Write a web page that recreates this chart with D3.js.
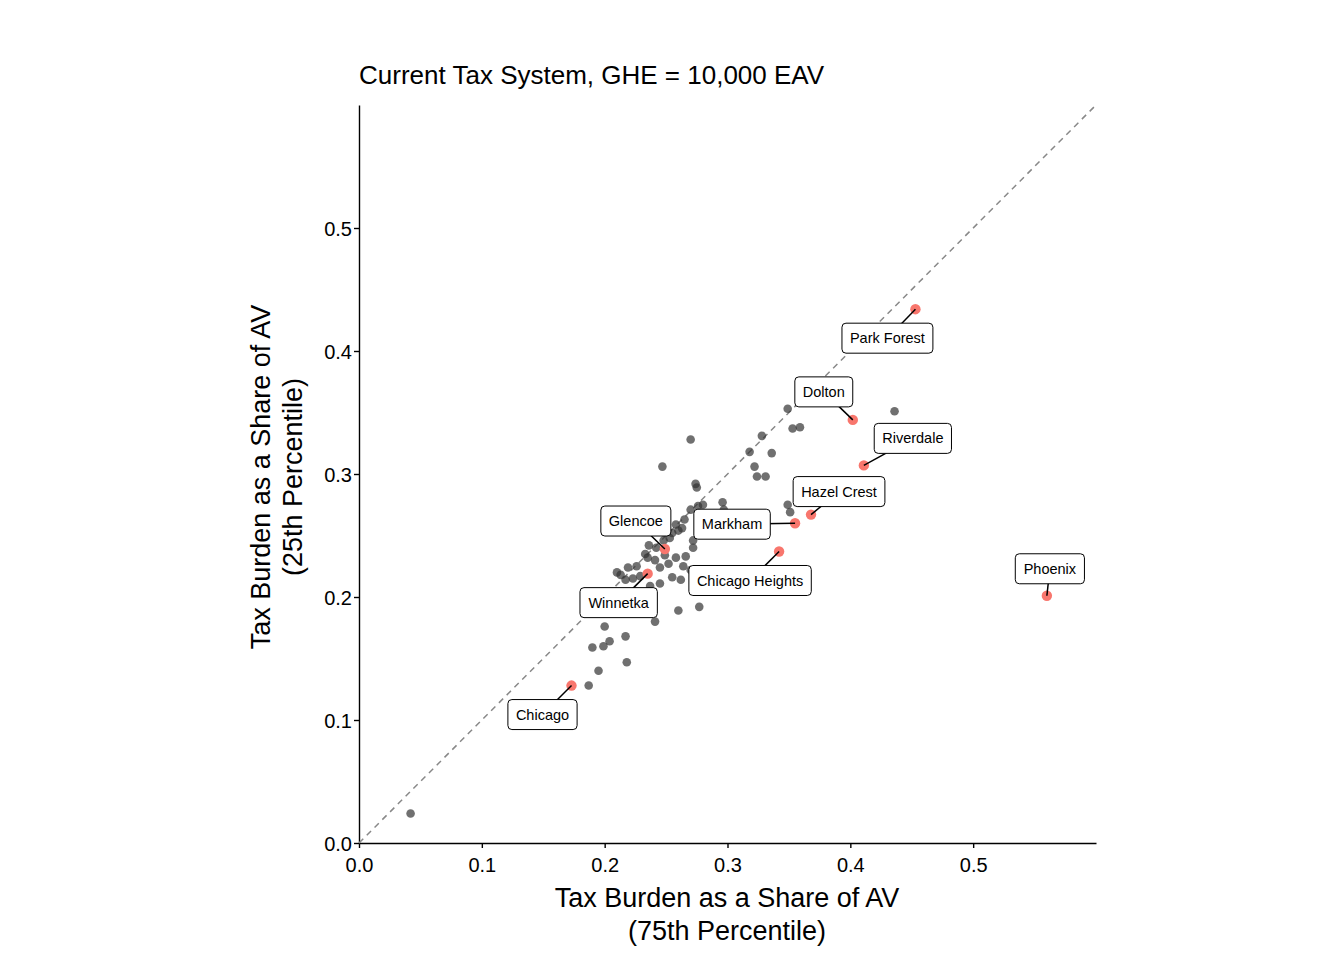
<!DOCTYPE html>
<html>
<head>
<meta charset="utf-8">
<script src="https://d3js.org/d3.v7.min.js"></script>
<style>
  body { margin: 0; background: #fff; }
  text { font-family: Arial, "Liberation Sans", sans-serif; }
</style>
</head>
<body>
<svg id="chart" width="1344" height="960"></svg>
<script>
// gray points: [x (75th pct), y (25th pct)]
var grayX = [0.042,0.187,0.195,0.204,0.199,0.190,0.218,0.217,0.200,0.241,0.260,0.277,0.213,0.217,0.223,0.229,0.237,0.245,0.255,0.262,0.264,0.270,0.266,0.272,0.272,0.252,0.258,0.245,0.235,0.236,0.248,0.255,0.260,0.263,0.258,0.265,0.270,0.276,0.280,0.296,0.297,0.275,0.247,0.270,0.274,0.322,0.324,0.331,0.318,0.328,0.336,0.349,0.353,0.359,0.349,0.351,0.436,0.210,0.219,0.226,0.241,0.249,0.242,0.253,0.233];
var grayY = [0.024,0.128,0.140,0.164,0.160,0.159,0.147,0.168,0.176,0.180,0.189,0.192,0.218,0.214,0.215,0.217,0.209,0.211,0.216,0.214,0.225,0.222,0.233,0.240,0.246,0.227,0.232,0.224,0.232,0.242,0.246,0.252,0.254,0.256,0.259,0.263,0.271,0.274,0.275,0.277,0.271,0.289,0.306,0.328,0.292,0.306,0.298,0.298,0.318,0.331,0.317,0.353,0.337,0.338,0.275,0.269,0.351,0.220,0.224,0.225,0.230,0.234,0.240,0.248,0.235];

var cities = ["Chicago","Winnetka","Glencoe","Markham","Hazel Crest","Chicago Heights","Riverdale","Dolton","Park Forest","Phoenix"];
var cityX = [0.173,0.235,0.249,0.355,0.368,0.342,0.411,0.402,0.453,0.560];
var cityY = [0.128,0.219,0.239,0.260,0.267,0.237,0.307,0.344,0.434,0.201];
// label offsets in pixels from the point
var labelDx = [-29,-29,-29,-63,28,-29,49,-29,-28,3];
var labelDy = [29,29,-28,1,-23,29,-27,-28,29,-27];

var ticks = [0, 0.1, 0.2, 0.3, 0.4, 0.5];

var svg = d3.select("#chart");
var x = d3.scaleLinear().domain([0, 0.6]).range([359, 1096]);
var y = d3.scaleLinear().domain([0, 0.6]).range([843, 105]);

// axes
var xAxis = svg.append("g").attr("transform", "translate(0,843)")
  .call(d3.axisBottom(x).tickValues(ticks).tickFormat(d3.format(".1f")).tickSize(5).tickSizeOuter(0));
var yAxis = svg.append("g").attr("transform", "translate(359,0)")
  .call(d3.axisLeft(y).tickValues(ticks).tickFormat(d3.format(".1f")).tickSize(5).tickSizeOuter(0));
[xAxis, yAxis].forEach(function (a) {
  a.selectAll("path, line").attr("stroke", "#000").attr("stroke-width", 1.4);
  a.selectAll("text").attr("font-size", 20).attr("fill", "#000").attr("font-family", "Arial, 'Liberation Sans', sans-serif");
});
xAxis.selectAll("text").attr("dy", "1.05em");
yAxis.selectAll("text").attr("dy", "0.35em").attr("x", -7);

// diagonal
svg.append("line")
  .attr("x1", x(0)).attr("y1", y(0)).attr("x2", x(0.6)).attr("y2", y(0.6))
  .attr("stroke", "#888").attr("stroke-width", 1.5).attr("stroke-dasharray", "6,5");

// gray points
svg.append("g").selectAll("circle").data(grayX).enter().append("circle")
  .attr("cx", function (d) { return x(d); })
  .attr("cy", function (d, i) { return y(grayY[i]); })
  .attr("r", 4.3).attr("fill", "#333").attr("fill-opacity", 0.7);

// red points
svg.append("g").selectAll("circle").data(cities).enter().append("circle")
  .attr("cx", function (d, i) { return x(cityX[i]); })
  .attr("cy", function (d, i) { return y(cityY[i]); })
  .attr("r", 5.2).attr("fill", "#F8766D");

// labels
cities.forEach(function (c, i) {
  var px = x(cityX[i]), py = y(cityY[i]);
  var lx = px + labelDx[i], ly = py + labelDy[i];
  var g = svg.append("g");
  var line = g.append("line").attr("x1", px).attr("y1", py).attr("x2", lx).attr("y2", ly)
    .attr("stroke", "#000").attr("stroke-width", 1.5);
  var t = g.append("text").attr("x", lx).attr("y", ly).attr("text-anchor", "middle")
    .attr("dy", "0.35em").attr("font-size", 14.5).attr("fill", "#000").text(c);
  var bb = t.node().getBBox();
  var w = bb.width + 16, h = 30;
  g.insert("rect", "text").attr("x", lx - w / 2).attr("y", ly - h / 2)
    .attr("width", w).attr("height", h).attr("rx", 4)
    .attr("fill", "#fff").attr("stroke", "#000").attr("stroke-width", 1);
});

// titles
svg.append("text").attr("x", 359).attr("y", 84).attr("font-size", 26).text("Current Tax System, GHE = 10,000 EAV");
svg.append("text").attr("x", 727).attr("y", 907).attr("text-anchor", "middle").attr("font-size", 27).text("Tax Burden as a Share of AV");
svg.append("text").attr("x", 727).attr("y", 940).attr("text-anchor", "middle").attr("font-size", 27).text("(75th Percentile)");
svg.append("text").attr("transform", "translate(270,477) rotate(-90)").attr("text-anchor", "middle").attr("font-size", 27).text("Tax Burden as a Share of AV");
svg.append("text").attr("transform", "translate(302,477) rotate(-90)").attr("text-anchor", "middle").attr("font-size", 27).text("(25th Percentile)");
</script>
</body>
</html>
